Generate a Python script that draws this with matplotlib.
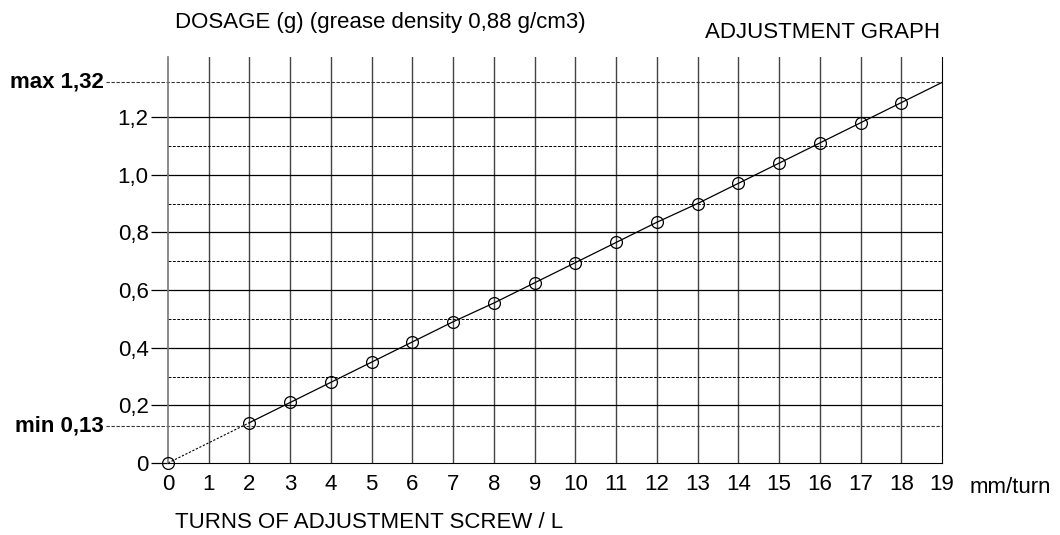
import numpy as np
import matplotlib.pyplot as plt

turns = [0, 2, 3, 4, 5, 6, 7, 8, 9, 10, 11, 12, 13, 14, 15, 16, 17, 18]
dosage = [0, 0.14, 0.21, 0.28, 0.35, 0.42, 0.49, 0.555, 0.625, 0.695,
          0.765, 0.835, 0.90, 0.97, 1.04, 1.11, 1.18, 1.25]
line_end = (19, 1.32)
min_dose = 0.13
max_dose = 1.32
y_ticks = [0, 0.2, 0.4, 0.6, 0.8, 1.0, 1.2]
y_labels = ['0', '0,2', '0,4', '0,6', '0,8', '1,0', '1,2']
y_minor = [0.3, 0.5, 0.7, 0.9, 1.1]
x_ticks = list(range(0, 20))

W, H = 1060, 535
plt.rcParams['font.family'] = ['Liberation Sans', 'DejaVu Sans']
plt.rcParams['font.size'] = 16
fig = plt.figure(figsize=(W / 100, H / 100), dpi=100)
ax = fig.add_axes([168 / W, 1 - 463 / H, (942 - 168) / W, (463 - 56.5) / H])
ax.set_xlim(0, 19)
ax.set_ylim(0, 1.41)

for x in x_ticks[1:-1]:
    ax.axvline(x, color='#444444', lw=1.0, zorder=1)
for y in y_ticks[1:]:
    ax.axhline(y, color='black', lw=0.9, zorder=1)
for y in y_minor:
    ax.axhline(y, color='black', lw=0.7, ls=(0, (3, 1.5)), zorder=1)

# min / max reference lines reaching into the label area
x_left = (106 - 168) / (942 - 168) * 19
for y in (min_dose, max_dose):
    ax.plot([x_left, 19], [y, y], color='#333333', lw=0.8, ls=(0, (3, 1.5)),
            clip_on=False, zorder=1)
ax.text(x_left - 0.05, max_dose, 'max 1,32', ha='right', va='center',
        fontsize=16, fontweight='bold')
ax.text(x_left - 0.05, min_dose, 'min 0,13', ha='right', va='center',
        fontsize=16, fontweight='bold')

# dotted start segment, solid line to the end
ax.plot(turns[:2], dosage[:2], color='black', lw=0.8, ls=(0, (2, 1.5)), zorder=2)
ax.plot(turns[1:] + [line_end[0]], dosage[1:] + [line_end[1]],
        color='black', lw=0.9, zorder=2, clip_on=False)
ax.plot(turns, dosage, 'o', ms=8.5, mfc='none', mec='black', mew=0.9,
        zorder=3, clip_on=False)

ax.set_xticks(x_ticks)
ax.set_xticklabels([str(x) for x in x_ticks], fontsize=16)
ax.set_yticks(y_ticks)
ax.set_yticklabels(y_labels, fontsize=16)
ax.tick_params(axis='x', length=0, pad=8)
ax.tick_params(axis='y', length=12, width=0.9, pad=2)

ax.spines['top'].set_visible(False)
ax.spines['left'].set_color('#777777')
ax.spines['left'].set_linewidth(1.2)
ax.spines['right'].set_color('black')
ax.spines['bottom'].set_color('black')

fig.text(175 / W, 1 - 28 / H, 'DOSAGE (g) (grease density 0,88 g/cm3)',
         fontsize=16, va='baseline', ha='left')
fig.text(705 / W, 1 - 38 / H, 'ADJUSTMENT GRAPH',
         fontsize=16, va='baseline', ha='left')
fig.text(175 / W, 1 - 528 / H, 'TURNS OF ADJUSTMENT SCREW / L',
         fontsize=16, va='baseline', ha='left')
fig.text(970 / W, 1 - 493 / H, 'mm/turn',
         fontsize=16, va='baseline', ha='left')

fig.savefig('out.png', dpi=100)
